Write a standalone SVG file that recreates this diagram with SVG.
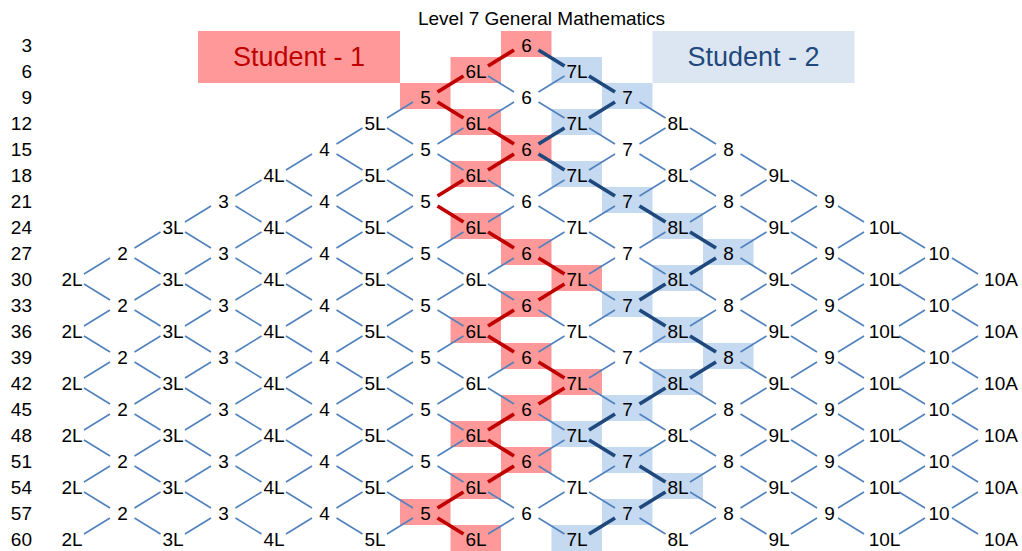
<svg xmlns="http://www.w3.org/2000/svg" width="1022" height="551" viewBox="0 0 1022 551">
<style>
text{font-family:"Liberation Sans",Arial,sans-serif;font-size:19px;text-anchor:middle;fill:#000}
.rl text{text-anchor:end}
.pk{fill:#FF9999}
.bl{fill:#C5D9F1}
.st{font-size:27px}
#connectors path{fill:none;stroke:#4F81BD;stroke-width:1.6}
#connectors path.r{stroke:#C00000;stroke-width:3.8}
#connectors path.b{stroke:#1F497D;stroke-width:3.8}
</style>
<rect width="1022" height="551" fill="#fff"/>
<g id="title"><text x="541.5" y="25">Level 7 General Mathematics</text></g>
<g id="legend1"><rect x="198" y="31" width="202" height="52" fill="#FF9999"/><text class="st" x="299" y="66" fill="#C00000" style="fill:#C00000">Student - 1</text></g>
<g id="legend2"><rect x="652.5" y="31" width="202" height="52" fill="#DCE6F2"/><text class="st" x="753.5" y="66" style="fill:#1F497D">Student - 2</text></g>
<g id="row-labels" class="rl">
<text x="32" y="51.5">3</text><text x="32" y="77.5">6</text><text x="32" y="103.5">9</text><text x="32" y="129.5">12</text><text x="32" y="155.5">15</text><text x="32" y="181.5">18</text><text x="32" y="207.5">21</text><text x="32" y="233.5">24</text><text x="32" y="259.5">27</text><text x="32" y="285.5">30</text><text x="32" y="311.5">33</text><text x="32" y="337.5">36</text><text x="32" y="363.5">39</text><text x="32" y="389.5">42</text><text x="32" y="415.5">45</text><text x="32" y="441.5">48</text><text x="32" y="467.5">51</text><text x="32" y="493.5">54</text><text x="32" y="519.5">57</text><text x="32" y="545.5">60</text>
</g>
<g id="nodes">
<g id="n0_9"><rect class="pk" x="501" y="31" width="50.5" height="26"/><text x="526.5" y="51.5">6</text></g>
<g id="n1_8"><rect class="pk" x="450.5" y="57" width="50.5" height="26"/><text x="476" y="77.5">6L</text></g>
<g id="n1_10"><rect class="bl" x="551.5" y="57" width="50.5" height="26"/><text x="577" y="77.5">7L</text></g>
<g id="n2_7"><rect class="pk" x="400" y="83" width="50.5" height="26"/><text x="425.5" y="103.5">5</text></g>
<g id="n2_9"><text x="526.5" y="103.5">6</text></g>
<g id="n2_11"><rect class="bl" x="602" y="83" width="50.5" height="26"/><text x="627.5" y="103.5">7</text></g>
<g id="n3_6"><text x="375" y="129.5">5L</text></g>
<g id="n3_8"><rect class="pk" x="450.5" y="109" width="50.5" height="26"/><text x="476" y="129.5">6L</text></g>
<g id="n3_10"><rect class="bl" x="551.5" y="109" width="50.5" height="26"/><text x="577" y="129.5">7L</text></g>
<g id="n3_12"><text x="678" y="129.5">8L</text></g>
<g id="n4_5"><text x="324.5" y="155.5">4</text></g>
<g id="n4_7"><text x="425.5" y="155.5">5</text></g>
<g id="n4_9"><rect class="pk" x="501" y="135" width="50.5" height="26"/><text x="526.5" y="155.5">6</text></g>
<g id="n4_11"><text x="627.5" y="155.5">7</text></g>
<g id="n4_13"><text x="728.5" y="155.5">8</text></g>
<g id="n5_4"><text x="274" y="181.5">4L</text></g>
<g id="n5_6"><text x="375" y="181.5">5L</text></g>
<g id="n5_8"><rect class="pk" x="450.5" y="161" width="50.5" height="26"/><text x="476" y="181.5">6L</text></g>
<g id="n5_10"><rect class="bl" x="551.5" y="161" width="50.5" height="26"/><text x="577" y="181.5">7L</text></g>
<g id="n5_12"><text x="678" y="181.5">8L</text></g>
<g id="n5_14"><text x="779" y="181.5">9L</text></g>
<g id="n6_3"><text x="223.5" y="207.5">3</text></g>
<g id="n6_5"><text x="324.5" y="207.5">4</text></g>
<g id="n6_7"><text x="425.5" y="207.5">5</text></g>
<g id="n6_9"><text x="526.5" y="207.5">6</text></g>
<g id="n6_11"><rect class="bl" x="602" y="187" width="50.5" height="26"/><text x="627.5" y="207.5">7</text></g>
<g id="n6_13"><text x="728.5" y="207.5">8</text></g>
<g id="n6_15"><text x="829.5" y="207.5">9</text></g>
<g id="n7_2"><text x="173" y="233.5">3L</text></g>
<g id="n7_4"><text x="274" y="233.5">4L</text></g>
<g id="n7_6"><text x="375" y="233.5">5L</text></g>
<g id="n7_8"><rect class="pk" x="450.5" y="213" width="50.5" height="26"/><text x="476" y="233.5">6L</text></g>
<g id="n7_10"><text x="577" y="233.5">7L</text></g>
<g id="n7_12"><rect class="bl" x="652.5" y="213" width="50.5" height="26"/><text x="678" y="233.5">8L</text></g>
<g id="n7_14"><text x="779" y="233.5">9L</text></g>
<g id="n7_16"><text x="884.5" y="233.5">10L</text></g>
<g id="n8_1"><text x="122.5" y="259.5">2</text></g>
<g id="n8_3"><text x="223.5" y="259.5">3</text></g>
<g id="n8_5"><text x="324.5" y="259.5">4</text></g>
<g id="n8_7"><text x="425.5" y="259.5">5</text></g>
<g id="n8_9"><rect class="pk" x="501" y="239" width="50.5" height="26"/><text x="526.5" y="259.5">6</text></g>
<g id="n8_11"><text x="627.5" y="259.5">7</text></g>
<g id="n8_13"><rect class="bl" x="703" y="239" width="50.5" height="26"/><text x="728.5" y="259.5">8</text></g>
<g id="n8_15"><text x="829.5" y="259.5">9</text></g>
<g id="n8_17"><text x="939" y="259.5">10</text></g>
<g id="n9_0"><text x="72" y="285.5">2L</text></g>
<g id="n9_2"><text x="173" y="285.5">3L</text></g>
<g id="n9_4"><text x="274" y="285.5">4L</text></g>
<g id="n9_6"><text x="375" y="285.5">5L</text></g>
<g id="n9_8"><text x="476" y="285.5">6L</text></g>
<g id="n9_10"><rect class="pk" x="551.5" y="265" width="50.5" height="26"/><text x="577" y="285.5">7L</text></g>
<g id="n9_12"><rect class="bl" x="652.5" y="265" width="50.5" height="26"/><text x="678" y="285.5">8L</text></g>
<g id="n9_14"><text x="779" y="285.5">9L</text></g>
<g id="n9_16"><text x="884.5" y="285.5">10L</text></g>
<g id="n9_18"><text x="1001" y="285.5">10A</text></g>
<g id="n10_1"><text x="122.5" y="311.5">2</text></g>
<g id="n10_3"><text x="223.5" y="311.5">3</text></g>
<g id="n10_5"><text x="324.5" y="311.5">4</text></g>
<g id="n10_7"><text x="425.5" y="311.5">5</text></g>
<g id="n10_9"><rect class="pk" x="501" y="291" width="50.5" height="26"/><text x="526.5" y="311.5">6</text></g>
<g id="n10_11"><rect class="bl" x="602" y="291" width="50.5" height="26"/><text x="627.5" y="311.5">7</text></g>
<g id="n10_13"><text x="728.5" y="311.5">8</text></g>
<g id="n10_15"><text x="829.5" y="311.5">9</text></g>
<g id="n10_17"><text x="939" y="311.5">10</text></g>
<g id="n11_0"><text x="72" y="337.5">2L</text></g>
<g id="n11_2"><text x="173" y="337.5">3L</text></g>
<g id="n11_4"><text x="274" y="337.5">4L</text></g>
<g id="n11_6"><text x="375" y="337.5">5L</text></g>
<g id="n11_8"><rect class="pk" x="450.5" y="317" width="50.5" height="26"/><text x="476" y="337.5">6L</text></g>
<g id="n11_10"><text x="577" y="337.5">7L</text></g>
<g id="n11_12"><rect class="bl" x="652.5" y="317" width="50.5" height="26"/><text x="678" y="337.5">8L</text></g>
<g id="n11_14"><text x="779" y="337.5">9L</text></g>
<g id="n11_16"><text x="884.5" y="337.5">10L</text></g>
<g id="n11_18"><text x="1001" y="337.5">10A</text></g>
<g id="n12_1"><text x="122.5" y="363.5">2</text></g>
<g id="n12_3"><text x="223.5" y="363.5">3</text></g>
<g id="n12_5"><text x="324.5" y="363.5">4</text></g>
<g id="n12_7"><text x="425.5" y="363.5">5</text></g>
<g id="n12_9"><rect class="pk" x="501" y="343" width="50.5" height="26"/><text x="526.5" y="363.5">6</text></g>
<g id="n12_11"><text x="627.5" y="363.5">7</text></g>
<g id="n12_13"><rect class="bl" x="703" y="343" width="50.5" height="26"/><text x="728.5" y="363.5">8</text></g>
<g id="n12_15"><text x="829.5" y="363.5">9</text></g>
<g id="n12_17"><text x="939" y="363.5">10</text></g>
<g id="n13_0"><text x="72" y="389.5">2L</text></g>
<g id="n13_2"><text x="173" y="389.5">3L</text></g>
<g id="n13_4"><text x="274" y="389.5">4L</text></g>
<g id="n13_6"><text x="375" y="389.5">5L</text></g>
<g id="n13_8"><text x="476" y="389.5">6L</text></g>
<g id="n13_10"><rect class="pk" x="551.5" y="369" width="50.5" height="26"/><text x="577" y="389.5">7L</text></g>
<g id="n13_12"><rect class="bl" x="652.5" y="369" width="50.5" height="26"/><text x="678" y="389.5">8L</text></g>
<g id="n13_14"><text x="779" y="389.5">9L</text></g>
<g id="n13_16"><text x="884.5" y="389.5">10L</text></g>
<g id="n13_18"><text x="1001" y="389.5">10A</text></g>
<g id="n14_1"><text x="122.5" y="415.5">2</text></g>
<g id="n14_3"><text x="223.5" y="415.5">3</text></g>
<g id="n14_5"><text x="324.5" y="415.5">4</text></g>
<g id="n14_7"><text x="425.5" y="415.5">5</text></g>
<g id="n14_9"><rect class="pk" x="501" y="395" width="50.5" height="26"/><text x="526.5" y="415.5">6</text></g>
<g id="n14_11"><rect class="bl" x="602" y="395" width="50.5" height="26"/><text x="627.5" y="415.5">7</text></g>
<g id="n14_13"><text x="728.5" y="415.5">8</text></g>
<g id="n14_15"><text x="829.5" y="415.5">9</text></g>
<g id="n14_17"><text x="939" y="415.5">10</text></g>
<g id="n15_0"><text x="72" y="441.5">2L</text></g>
<g id="n15_2"><text x="173" y="441.5">3L</text></g>
<g id="n15_4"><text x="274" y="441.5">4L</text></g>
<g id="n15_6"><text x="375" y="441.5">5L</text></g>
<g id="n15_8"><rect class="pk" x="450.5" y="421" width="50.5" height="26"/><text x="476" y="441.5">6L</text></g>
<g id="n15_10"><rect class="bl" x="551.5" y="421" width="50.5" height="26"/><text x="577" y="441.5">7L</text></g>
<g id="n15_12"><text x="678" y="441.5">8L</text></g>
<g id="n15_14"><text x="779" y="441.5">9L</text></g>
<g id="n15_16"><text x="884.5" y="441.5">10L</text></g>
<g id="n15_18"><text x="1001" y="441.5">10A</text></g>
<g id="n16_1"><text x="122.5" y="467.5">2</text></g>
<g id="n16_3"><text x="223.5" y="467.5">3</text></g>
<g id="n16_5"><text x="324.5" y="467.5">4</text></g>
<g id="n16_7"><text x="425.5" y="467.5">5</text></g>
<g id="n16_9"><rect class="pk" x="501" y="447" width="50.5" height="26"/><text x="526.5" y="467.5">6</text></g>
<g id="n16_11"><rect class="bl" x="602" y="447" width="50.5" height="26"/><text x="627.5" y="467.5">7</text></g>
<g id="n16_13"><text x="728.5" y="467.5">8</text></g>
<g id="n16_15"><text x="829.5" y="467.5">9</text></g>
<g id="n16_17"><text x="939" y="467.5">10</text></g>
<g id="n17_0"><text x="72" y="493.5">2L</text></g>
<g id="n17_2"><text x="173" y="493.5">3L</text></g>
<g id="n17_4"><text x="274" y="493.5">4L</text></g>
<g id="n17_6"><text x="375" y="493.5">5L</text></g>
<g id="n17_8"><rect class="pk" x="450.5" y="473" width="50.5" height="26"/><text x="476" y="493.5">6L</text></g>
<g id="n17_10"><text x="577" y="493.5">7L</text></g>
<g id="n17_12"><rect class="bl" x="652.5" y="473" width="50.5" height="26"/><text x="678" y="493.5">8L</text></g>
<g id="n17_14"><text x="779" y="493.5">9L</text></g>
<g id="n17_16"><text x="884.5" y="493.5">10L</text></g>
<g id="n17_18"><text x="1001" y="493.5">10A</text></g>
<g id="n18_1"><text x="122.5" y="519.5">2</text></g>
<g id="n18_3"><text x="223.5" y="519.5">3</text></g>
<g id="n18_5"><text x="324.5" y="519.5">4</text></g>
<g id="n18_7"><rect class="pk" x="400" y="499" width="50.5" height="26"/><text x="425.5" y="519.5">5</text></g>
<g id="n18_9"><text x="526.5" y="519.5">6</text></g>
<g id="n18_11"><rect class="bl" x="602" y="499" width="50.5" height="26"/><text x="627.5" y="519.5">7</text></g>
<g id="n18_13"><text x="728.5" y="519.5">8</text></g>
<g id="n18_15"><text x="829.5" y="519.5">9</text></g>
<g id="n18_17"><text x="939" y="519.5">10</text></g>
<g id="n19_0"><text x="72" y="545.5">2L</text></g>
<g id="n19_2"><text x="173" y="545.5">3L</text></g>
<g id="n19_4"><text x="274" y="545.5">4L</text></g>
<g id="n19_6"><text x="375" y="545.5">5L</text></g>
<g id="n19_8"><rect class="pk" x="450.5" y="525" width="50.5" height="26"/><text x="476" y="545.5">6L</text></g>
<g id="n19_10"><rect class="bl" x="551.5" y="525" width="50.5" height="26"/><text x="577" y="545.5">7L</text></g>
<g id="n19_12"><text x="678" y="545.5">8L</text></g>
<g id="n19_14"><text x="779" y="545.5">9L</text></g>
<g id="n19_16"><text x="884.5" y="545.5">10L</text></g>
<g id="n19_18"><text x="1001" y="545.5">10A</text></g>
</g>
<g id="connectors">
<path class="r" d="M488 66l26-16"/><path class="b" d="M538.5 50l26 16"/>
<path class="r" d="M437.5 92l26-16"/><path d="M488 76l26 16"/><path d="M538.5 92l26-16"/><path class="b" d="M589 76l26 16"/>
<path d="M387 118l26-16"/><path class="r" d="M437.5 102l26 16"/><path d="M488 118l26-16"/><path d="M538.5 102l26 16"/><path class="b" d="M589 118l26-16"/><path d="M639.5 102l26 16"/>
<path d="M336.5 144l26-16"/><path d="M387 128l26 16"/><path d="M437.5 144l26-16"/><path class="r" d="M488 128l26 16"/><path class="b" d="M538.5 144l26-16"/><path d="M589 128l26 16"/><path d="M639.5 144l26-16"/><path d="M690 128l26 16"/>
<path d="M286 170l26-16"/><path d="M336.5 154l26 16"/><path d="M387 170l26-16"/><path d="M437.5 154l26 16"/><path class="r" d="M488 170l26-16"/><path class="b" d="M538.5 154l26 16"/><path d="M589 170l26-16"/><path d="M639.5 154l26 16"/><path d="M690 170l26-16"/><path d="M740.5 154l26 16"/>
<path d="M235.5 196l26-16"/><path d="M286 180l26 16"/><path d="M336.5 196l26-16"/><path d="M387 180l26 16"/><path class="r" d="M437.5 196l26-16"/><path d="M488 180l26 16"/><path d="M538.5 196l26-16"/><path class="b" d="M589 180l26 16"/><path d="M639.5 196l26-16"/><path d="M690 180l26 16"/><path d="M740.5 196l26-16"/><path d="M791 180l26 16"/>
<path d="M185 222l26-16"/><path d="M235.5 206l26 16"/><path d="M286 222l26-16"/><path d="M336.5 206l26 16"/><path d="M387 222l26-16"/><path class="r" d="M437.5 206l26 16"/><path d="M488 222l26-16"/><path d="M538.5 206l26 16"/><path d="M589 222l26-16"/><path class="b" d="M639.5 206l26 16"/><path d="M690 222l26-16"/><path d="M740.5 206l26 16"/><path d="M791 222l26-16"/><path d="M838 206l26 16"/>
<path d="M134.5 248l26-16"/><path d="M185 232l26 16"/><path d="M235.5 248l26-16"/><path d="M286 232l26 16"/><path d="M336.5 248l26-16"/><path d="M387 232l26 16"/><path d="M437.5 248l26-16"/><path class="r" d="M488 232l26 16"/><path d="M538.5 248l26-16"/><path d="M589 232l26 16"/><path d="M639.5 248l26-16"/><path class="b" d="M690 232l26 16"/><path d="M740.5 248l26-16"/><path d="M791 232l26 16"/><path d="M838 248l26-16"/><path d="M899 232l26 16"/>
<path d="M84 274l26-16"/><path d="M134.5 258l26 16"/><path d="M185 274l26-16"/><path d="M235.5 258l26 16"/><path d="M286 274l26-16"/><path d="M336.5 258l26 16"/><path d="M387 274l26-16"/><path d="M437.5 258l26 16"/><path d="M488 274l26-16"/><path class="r" d="M538.5 258l26 16"/><path d="M589 274l26-16"/><path d="M639.5 258l26 16"/><path class="b" d="M690 274l26-16"/><path d="M740.5 258l26 16"/><path d="M791 274l26-16"/><path d="M838 258l26 16"/><path d="M899 274l26-16"/><path d="M952 258l26 16"/>
<path d="M84 284l26 16"/><path d="M134.5 300l26-16"/><path d="M185 284l26 16"/><path d="M235.5 300l26-16"/><path d="M286 284l26 16"/><path d="M336.5 300l26-16"/><path d="M387 284l26 16"/><path d="M437.5 300l26-16"/><path d="M488 284l26 16"/><path class="r" d="M538.5 300l26-16"/><path d="M589 284l26 16"/><path class="b" d="M639.5 300l26-16"/><path d="M690 284l26 16"/><path d="M740.5 300l26-16"/><path d="M791 284l26 16"/><path d="M838 300l26-16"/><path d="M899 284l26 16"/><path d="M952 300l26-16"/>
<path d="M84 326l26-16"/><path d="M134.5 310l26 16"/><path d="M185 326l26-16"/><path d="M235.5 310l26 16"/><path d="M286 326l26-16"/><path d="M336.5 310l26 16"/><path d="M387 326l26-16"/><path d="M437.5 310l26 16"/><path class="r" d="M488 326l26-16"/><path d="M538.5 310l26 16"/><path d="M589 326l26-16"/><path class="b" d="M639.5 310l26 16"/><path d="M690 326l26-16"/><path d="M740.5 310l26 16"/><path d="M791 326l26-16"/><path d="M838 310l26 16"/><path d="M899 326l26-16"/><path d="M952 310l26 16"/>
<path d="M84 336l26 16"/><path d="M134.5 352l26-16"/><path d="M185 336l26 16"/><path d="M235.5 352l26-16"/><path d="M286 336l26 16"/><path d="M336.5 352l26-16"/><path d="M387 336l26 16"/><path d="M437.5 352l26-16"/><path class="r" d="M488 336l26 16"/><path d="M538.5 352l26-16"/><path d="M589 336l26 16"/><path d="M639.5 352l26-16"/><path class="b" d="M690 336l26 16"/><path d="M740.5 352l26-16"/><path d="M791 336l26 16"/><path d="M838 352l26-16"/><path d="M899 336l26 16"/><path d="M952 352l26-16"/>
<path d="M84 378l26-16"/><path d="M134.5 362l26 16"/><path d="M185 378l26-16"/><path d="M235.5 362l26 16"/><path d="M286 378l26-16"/><path d="M336.5 362l26 16"/><path d="M387 378l26-16"/><path d="M437.5 362l26 16"/><path d="M488 378l26-16"/><path class="r" d="M538.5 362l26 16"/><path d="M589 378l26-16"/><path d="M639.5 362l26 16"/><path class="b" d="M690 378l26-16"/><path d="M740.5 362l26 16"/><path d="M791 378l26-16"/><path d="M838 362l26 16"/><path d="M899 378l26-16"/><path d="M952 362l26 16"/>
<path d="M84 388l26 16"/><path d="M134.5 404l26-16"/><path d="M185 388l26 16"/><path d="M235.5 404l26-16"/><path d="M286 388l26 16"/><path d="M336.5 404l26-16"/><path d="M387 388l26 16"/><path d="M437.5 404l26-16"/><path d="M488 388l26 16"/><path class="r" d="M538.5 404l26-16"/><path d="M589 388l26 16"/><path class="b" d="M639.5 404l26-16"/><path d="M690 388l26 16"/><path d="M740.5 404l26-16"/><path d="M791 388l26 16"/><path d="M838 404l26-16"/><path d="M899 388l26 16"/><path d="M952 404l26-16"/>
<path d="M84 430l26-16"/><path d="M134.5 414l26 16"/><path d="M185 430l26-16"/><path d="M235.5 414l26 16"/><path d="M286 430l26-16"/><path d="M336.5 414l26 16"/><path d="M387 430l26-16"/><path d="M437.5 414l26 16"/><path class="r" d="M488 430l26-16"/><path d="M538.5 414l26 16"/><path class="b" d="M589 430l26-16"/><path d="M639.5 414l26 16"/><path d="M690 430l26-16"/><path d="M740.5 414l26 16"/><path d="M791 430l26-16"/><path d="M838 414l26 16"/><path d="M899 430l26-16"/><path d="M952 414l26 16"/>
<path d="M84 440l26 16"/><path d="M134.5 456l26-16"/><path d="M185 440l26 16"/><path d="M235.5 456l26-16"/><path d="M286 440l26 16"/><path d="M336.5 456l26-16"/><path d="M387 440l26 16"/><path d="M437.5 456l26-16"/><path class="r" d="M488 440l26 16"/><path d="M538.5 456l26-16"/><path class="b" d="M589 440l26 16"/><path d="M639.5 456l26-16"/><path d="M690 440l26 16"/><path d="M740.5 456l26-16"/><path d="M791 440l26 16"/><path d="M838 456l26-16"/><path d="M899 440l26 16"/><path d="M952 456l26-16"/>
<path d="M84 482l26-16"/><path d="M134.5 466l26 16"/><path d="M185 482l26-16"/><path d="M235.5 466l26 16"/><path d="M286 482l26-16"/><path d="M336.5 466l26 16"/><path d="M387 482l26-16"/><path d="M437.5 466l26 16"/><path class="r" d="M488 482l26-16"/><path d="M538.5 466l26 16"/><path d="M589 482l26-16"/><path class="b" d="M639.5 466l26 16"/><path d="M690 482l26-16"/><path d="M740.5 466l26 16"/><path d="M791 482l26-16"/><path d="M838 466l26 16"/><path d="M899 482l26-16"/><path d="M952 466l26 16"/>
<path d="M84 492l26 16"/><path d="M134.5 508l26-16"/><path d="M185 492l26 16"/><path d="M235.5 508l26-16"/><path d="M286 492l26 16"/><path d="M336.5 508l26-16"/><path d="M387 492l26 16"/><path class="r" d="M437.5 508l26-16"/><path d="M488 492l26 16"/><path d="M538.5 508l26-16"/><path d="M589 492l26 16"/><path class="b" d="M639.5 508l26-16"/><path d="M690 492l26 16"/><path d="M740.5 508l26-16"/><path d="M791 492l26 16"/><path d="M838 508l26-16"/><path d="M899 492l26 16"/><path d="M952 508l26-16"/>
<path d="M84 534l26-16"/><path d="M134.5 518l26 16"/><path d="M185 534l26-16"/><path d="M235.5 518l26 16"/><path d="M286 534l26-16"/><path d="M336.5 518l26 16"/><path d="M387 534l26-16"/><path class="r" d="M437.5 518l26 16"/><path d="M488 534l26-16"/><path d="M538.5 518l26 16"/><path class="b" d="M589 534l26-16"/><path d="M639.5 518l26 16"/><path d="M690 534l26-16"/><path d="M740.5 518l26 16"/><path d="M791 534l26-16"/><path d="M838 518l26 16"/><path d="M899 534l26-16"/><path d="M952 518l26 16"/>
</g>
</svg>
